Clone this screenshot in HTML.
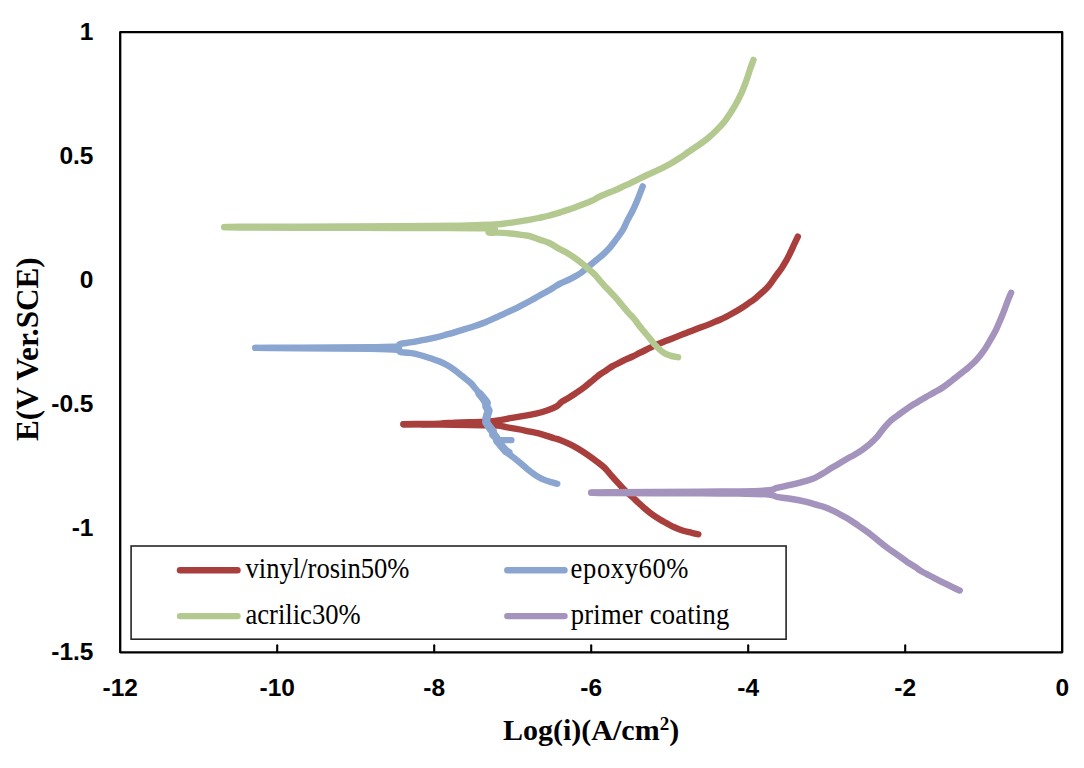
<!DOCTYPE html>
<html><head><meta charset="utf-8"><style>
html,body{margin:0;padding:0;background:#fff;width:1084px;height:768px;overflow:hidden}
svg{display:block}
.tk{font-family:"Liberation Sans",sans-serif;font-weight:bold;font-size:24.5px;fill:#000}
.lg{font-family:"Liberation Serif",serif;font-size:26.6px;fill:#000}
.ttl{font-family:"Liberation Serif",serif;font-weight:bold;font-size:30px;fill:#000}
.sup{font-size:19px}
</style></head><body>
<svg width="1084" height="768" viewBox="0 0 1084 768">
<rect x="0" y="0" width="1084" height="768" fill="#fff"/>
<line x1="277.2" y1="652.3" x2="277.2" y2="645.2" stroke="#000" stroke-width="2.1" stroke-linecap="round"/>
<line x1="434.2" y1="652.3" x2="434.2" y2="645.2" stroke="#000" stroke-width="2.1" stroke-linecap="round"/>
<line x1="591.2" y1="652.3" x2="591.2" y2="645.2" stroke="#000" stroke-width="2.1" stroke-linecap="round"/>
<line x1="748.2" y1="652.3" x2="748.2" y2="645.2" stroke="#000" stroke-width="2.1" stroke-linecap="round"/>
<line x1="905.2" y1="652.3" x2="905.2" y2="645.2" stroke="#000" stroke-width="2.1" stroke-linecap="round"/>
<rect x="120.2" y="32.2" width="942.0" height="620.1" fill="none" stroke="#000" stroke-width="2.3" stroke-linejoin="round"/>
<text x="93.5" y="40.2" text-anchor="end" class="tk">1</text>
<text x="93.5" y="164.2" text-anchor="end" class="tk">0.5</text>
<text x="93.5" y="288.2" text-anchor="end" class="tk">0</text>
<text x="93.5" y="412.3" text-anchor="end" class="tk">-0.5</text>
<text x="93.5" y="536.3" text-anchor="end" class="tk">-1</text>
<text x="93.5" y="660.3" text-anchor="end" class="tk">-1.5</text>
<text x="120.2" y="696.2" text-anchor="middle" class="tk">-12</text>
<text x="277.2" y="696.2" text-anchor="middle" class="tk">-10</text>
<text x="434.2" y="696.2" text-anchor="middle" class="tk">-8</text>
<text x="591.2" y="696.2" text-anchor="middle" class="tk">-6</text>
<text x="748.2" y="696.2" text-anchor="middle" class="tk">-4</text>
<text x="905.2" y="696.2" text-anchor="middle" class="tk">-2</text>
<text x="1062.2" y="696.2" text-anchor="middle" class="tk">0</text>
<path d="M698.3,534.3 C698.0,534.2 697.9,534.2 696.4,533.9 C694.9,533.5 691.5,532.8 689.0,532.2 C686.5,531.6 684.2,531.0 681.7,530.2 C679.2,529.4 676.8,528.4 674.3,527.3 C671.8,526.2 669.4,524.8 666.9,523.4 C664.4,522.0 662.0,520.7 659.5,519.2 C657.0,517.7 654.6,516.2 652.1,514.4 C649.6,512.6 647.2,510.6 644.8,508.5 C642.3,506.4 639.4,503.6 637.4,501.8 C635.4,500.0 634.9,499.4 632.8,497.5 C630.7,495.6 627.4,492.9 625.0,490.5 C622.6,488.1 620.5,485.7 618.2,483.2 C615.9,480.7 613.5,478.0 611.2,475.4 C608.9,472.8 606.9,470.0 604.4,467.6 C601.9,465.2 599.2,463.4 596.4,461.2 C593.5,459.0 590.3,456.7 587.3,454.6 C584.3,452.5 581.2,450.5 578.2,448.7 C575.2,446.9 572.1,445.3 569.1,443.9 C566.1,442.4 562.5,440.9 560.0,440.0 C557.5,439.1 557.0,439.1 554.0,438.2 C551.0,437.2 546.0,435.4 542.0,434.3 C538.0,433.2 534.0,432.5 530.0,431.6 C526.0,430.8 522.0,429.9 518.0,429.2 C514.0,428.4 509.3,427.7 506.0,427.1 C502.7,426.5 501.5,425.9 498.0,425.6 C494.5,425.3 489.7,425.4 485.0,425.3 C480.3,425.2 477.5,425.2 470.0,425.1 C462.5,425.0 448.3,424.7 440.0,424.6 C431.7,424.5 426.1,424.5 420.0,424.4 C413.9,424.3 406.2,424.2 403.5,424.2" fill="none" stroke="#A83F3D" stroke-width="6.4" stroke-linecap="round" stroke-linejoin="round"/>
<path d="M403.5,424.2 C406.2,424.2 413.9,424.1 420.0,424.0 C426.1,423.9 434.2,423.8 440.0,423.6 C445.8,423.4 450.0,422.8 455.0,422.6 C460.0,422.4 465.0,422.3 470.0,422.2 C475.0,422.1 480.0,422.1 485.0,421.8 C490.0,421.5 495.5,420.9 500.0,420.2 C504.5,419.5 508.0,418.5 512.0,417.8 C516.0,417.1 520.0,416.5 524.0,415.8 C528.0,415.1 532.0,414.5 536.0,413.6 C540.0,412.7 544.2,411.4 547.7,410.2 C551.2,409.0 554.6,407.6 556.9,406.2 C559.2,404.8 560.0,403.1 561.5,402.0 C563.0,400.9 563.8,400.7 566.1,399.3 C568.4,397.9 572.3,395.6 575.4,393.5 C578.5,391.4 581.5,389.4 584.6,387.0 C587.7,384.6 591.2,381.5 593.8,379.4 C596.4,377.3 597.9,375.9 600.0,374.4 C602.1,372.9 604.3,371.6 606.5,370.2 C608.7,368.8 610.8,367.1 613.0,365.9 C615.2,364.6 617.3,363.8 619.5,362.7 C621.7,361.6 623.8,360.4 626.0,359.4 C628.2,358.4 630.4,357.5 632.6,356.5 C634.8,355.5 636.9,354.3 639.1,353.2 C641.3,352.1 643.1,351.2 645.6,350.0 C648.1,348.8 650.4,347.4 654.0,345.8 C657.6,344.2 662.7,342.3 667.0,340.6 C671.3,338.9 676.2,336.9 680.0,335.4 C683.8,333.9 686.6,332.9 690.0,331.6 C693.4,330.3 696.9,328.9 700.4,327.6 C703.9,326.3 707.3,325.0 710.8,323.6 C714.3,322.2 717.8,320.8 721.3,319.2 C724.8,317.6 728.6,315.5 731.7,313.8 C734.8,312.1 737.3,310.7 740.0,309.0 C742.7,307.3 745.2,305.6 747.8,303.8 C750.4,302.0 753.0,300.3 755.6,298.2 C758.2,296.1 761.1,293.4 763.4,291.3 C765.7,289.2 767.3,287.8 769.3,285.3 C771.3,282.8 773.5,279.3 775.6,276.4 C777.7,273.5 780.0,270.7 781.8,268.0 C783.6,265.3 785.0,262.8 786.5,260.2 C788.0,257.6 789.2,254.9 790.5,252.3 C791.8,249.7 792.9,247.1 794.1,244.5 C795.3,241.9 797.2,238.0 797.8,236.7" fill="none" stroke="#A83F3D" stroke-width="6.4" stroke-linecap="round" stroke-linejoin="round"/>

<path d="M557.3,483.8 C556.1,483.5 552.4,482.5 550.2,481.9 C548.0,481.2 546.3,480.7 544.3,479.9 C542.3,479.1 540.3,478.1 538.4,477.0 C536.5,475.9 534.5,474.6 532.6,473.2 C530.7,471.8 528.6,470.0 526.7,468.5 C524.9,467.0 523.3,465.5 521.5,464.0 C519.7,462.5 517.5,460.7 516.0,459.5 C514.5,458.3 514.0,457.9 512.8,457.0 C511.6,456.1 509.9,455.0 508.7,453.9 C507.5,452.8 506.7,451.7 505.5,450.2 C504.3,448.7 502.7,446.8 501.4,445.0 C500.1,443.2 498.6,441.2 497.5,439.5 C496.4,437.8 495.8,436.5 494.9,434.8 C494.0,433.1 493.4,431.1 492.1,429.3 C490.9,427.5 488.3,425.7 487.4,423.8 C486.5,421.9 486.5,420.4 486.6,418.2 C486.7,416.0 488.2,413.1 487.9,410.5 C487.6,407.9 486.4,405.5 485.0,402.7 C483.6,399.9 481.4,396.4 479.6,393.9 C477.9,391.4 476.1,389.4 474.5,387.5 C472.9,385.6 472.3,384.5 470.3,382.6 C468.3,380.7 465.1,378.4 462.5,376.3 C459.9,374.2 457.3,372.0 454.7,370.1 C452.1,368.2 449.5,366.5 446.9,365.0 C444.3,363.5 441.7,362.4 439.1,361.3 C436.5,360.2 433.9,359.4 431.3,358.5 C428.7,357.6 426.0,356.8 423.4,356.0 C420.8,355.2 418.2,354.4 415.6,353.8 C413.0,353.2 410.4,353.0 407.8,352.7 C405.2,352.4 401.8,352.3 400.0,351.8 C398.2,351.3 402.0,350.3 397.0,349.8 C392.0,349.3 386.2,349.1 370.0,348.8 C353.8,348.6 316.7,348.4 300.0,348.3 C283.3,348.2 277.4,348.2 270.0,348.1 C262.6,348.0 257.8,347.9 255.3,347.9" fill="none" stroke="#8AA5CF" stroke-width="6.4" stroke-linecap="round" stroke-linejoin="round"/>
<path d="M255.3,347.9 C257.8,347.8 262.6,347.7 270.0,347.6 C277.4,347.6 283.3,347.7 300.0,347.6 C316.7,347.5 353.8,347.4 370.0,347.2 C386.2,347.0 392.0,347.0 397.0,346.5 C402.0,346.0 397.5,344.7 400.0,344.0 C402.5,343.3 408.0,342.9 412.0,342.2 C416.0,341.5 420.0,340.6 424.0,339.8 C428.0,339.0 432.0,338.3 436.0,337.4 C440.0,336.5 444.0,335.3 448.0,334.2 C452.0,333.1 456.0,331.8 460.0,330.6 C464.0,329.4 468.0,328.3 472.0,327.0 C476.0,325.7 480.0,324.4 484.0,322.8 C488.0,321.2 492.5,319.1 496.0,317.5 C499.5,315.9 501.9,314.7 505.0,313.3 C508.1,311.9 511.5,310.5 514.8,308.9 C518.0,307.3 521.2,305.6 524.5,303.9 C527.8,302.2 531.0,300.4 534.3,298.6 C537.6,296.8 540.9,295.0 544.1,293.1 C547.4,291.2 551.1,289.0 553.8,287.4 C556.4,285.8 557.8,284.8 560.0,283.6 C562.2,282.5 564.8,281.6 567.2,280.5 C569.6,279.4 571.9,278.2 574.3,276.9 C576.7,275.6 579.1,274.2 581.5,272.5 C583.9,270.8 586.1,268.7 588.7,266.5 C591.4,264.3 594.9,261.3 597.4,259.2 C599.9,257.2 601.7,255.7 603.6,254.0 C605.5,252.3 607.2,250.5 608.8,248.8 C610.4,247.1 611.6,245.3 613.0,243.6 C614.4,241.9 615.6,240.1 616.9,238.4 C618.2,236.7 619.4,234.9 620.6,233.2 C621.8,231.5 622.8,230.1 623.9,228.0 C625.0,225.9 625.9,223.3 627.4,220.4 C628.9,217.5 631.0,214.0 632.6,210.8 C634.2,207.7 635.5,204.6 636.8,201.5 C638.1,198.4 639.5,194.6 640.5,192.1 C641.5,189.6 642.3,187.3 642.7,186.4" fill="none" stroke="#8AA5CF" stroke-width="6.4" stroke-linecap="round" stroke-linejoin="round"/>

<path d="M496.5,440.1" fill="none" stroke="#8AA5CF" stroke-width="6.4" stroke-linecap="round" stroke-linejoin="round"/>
<path d="M496.5,440.1 L511.4,440.1" fill="none" stroke="#8AA5CF" stroke-width="6.4" stroke-linecap="round" stroke-linejoin="round"/>

<polyline points="479.6,393.9 483.5,398.5 486.8,402.5 486.3,406.5 488.6,410.5 487.6,414.0 486.4,418.2 486.2,422.5 488.3,425.5 490.3,428.5 492.9,431.5 493.2,434.8 496.2,437.5 497.3,441.0 499.8,443.8 501.4,446.0 504.5,449.4 506.0,451.3 508.5,452.4" fill="none" stroke="#8AA5CF" stroke-width="8.2" stroke-linecap="round" stroke-linejoin="round"/>
<path d="M678.1,357.2 C676.8,356.9 672.8,356.4 670.3,355.6 C667.8,354.8 665.8,354.2 663.2,352.4 C660.6,350.6 657.0,347.0 654.7,344.6 C652.4,342.2 651.3,340.2 649.5,338.0 C647.7,335.8 645.8,333.7 644.0,331.5 C642.2,329.3 640.4,327.2 638.7,325.0 C637.0,322.8 635.8,320.7 633.9,318.5 C632.0,316.3 629.5,313.9 627.6,311.8 C625.7,309.6 624.1,307.6 622.3,305.5 C620.5,303.4 618.8,301.3 617.0,299.2 C615.2,297.2 613.3,295.1 611.4,293.0 C609.5,290.9 607.3,288.8 605.4,286.8 C603.5,284.7 601.4,282.4 599.8,280.5 C598.2,278.6 597.6,277.5 595.8,275.6 C593.9,273.7 591.1,271.3 588.7,269.2 C586.3,267.1 583.9,264.8 581.5,262.9 C579.1,261.0 576.7,259.3 574.3,257.6 C571.9,255.9 569.6,254.3 567.2,252.9 C564.8,251.5 563.0,251.0 560.0,249.3 C557.0,247.7 552.7,244.6 549.3,243.0 C545.9,241.4 542.8,240.7 539.5,239.6 C536.2,238.5 532.4,236.9 529.8,236.2 C527.2,235.5 527.8,235.7 524.0,235.2 C520.2,234.7 511.7,233.5 507.0,233.1 C502.3,232.7 499.1,232.7 496.0,232.6 C492.9,232.5 489.8,233.3 488.6,232.6 C487.4,231.9 503.4,229.2 488.6,228.4 C473.8,227.6 431.4,228.1 400.0,228.0 C368.6,227.9 326.7,227.9 300.0,227.8 C273.3,227.7 252.6,227.6 240.0,227.5 C227.4,227.4 226.9,227.2 224.3,227.1" fill="none" stroke="#B3C990" stroke-width="6.4" stroke-linecap="round" stroke-linejoin="round"/>
<path d="M224.3,227.1 C226.9,227.0 227.4,226.8 240.0,226.7 C252.6,226.6 273.3,226.7 300.0,226.6 C326.7,226.5 373.3,226.5 400.0,226.3 C426.7,226.1 446.7,225.8 460.0,225.6 C473.3,225.4 473.6,225.2 480.0,225.0 C486.4,224.8 493.9,224.5 498.4,224.2 C502.9,223.9 503.4,223.7 507.0,223.2 C510.6,222.7 516.3,221.9 520.0,221.3 C523.7,220.8 526.1,220.5 529.2,219.9 C532.3,219.3 535.4,218.7 538.5,218.0 C541.6,217.3 544.6,216.8 547.7,216.0 C550.8,215.2 553.8,214.3 556.9,213.4 C560.0,212.5 563.0,211.4 566.1,210.4 C569.2,209.4 572.3,208.3 575.4,207.2 C578.5,206.1 581.5,204.9 584.6,203.7 C587.7,202.5 591.2,201.0 593.8,199.8 C596.4,198.6 597.3,197.6 600.0,196.3 C602.7,195.1 606.7,193.7 610.0,192.3 C613.3,190.9 616.7,189.5 620.0,188.0 C623.3,186.5 626.8,184.8 630.0,183.3 C633.2,181.8 635.4,180.6 639.0,178.8 C642.6,177.1 648.2,174.5 651.9,172.8 C655.6,171.1 658.0,170.1 661.1,168.6 C664.2,167.1 667.2,165.6 670.4,163.8 C673.5,162.0 676.8,159.9 680.0,157.8 C683.2,155.7 686.5,153.2 689.8,151.0 C693.0,148.8 696.2,146.8 699.5,144.5 C702.8,142.2 706.0,139.8 709.3,137.0 C712.6,134.2 716.4,130.4 719.1,127.6 C721.8,124.8 723.0,123.8 725.6,120.1 C728.2,116.4 732.4,110.1 735.0,105.6 C737.6,101.1 739.4,97.4 741.3,93.3 C743.2,89.2 744.7,85.0 746.2,80.9 C747.7,76.8 749.1,72.0 750.3,68.5 C751.5,65.0 753.0,61.3 753.5,59.9" fill="none" stroke="#B3C990" stroke-width="6.4" stroke-linecap="round" stroke-linejoin="round"/>

<path d="M959.7,590.5 C959.0,590.2 957.5,589.5 955.3,588.5 C953.1,587.5 949.4,585.7 946.5,584.2 C943.6,582.8 940.6,581.3 937.7,579.8 C934.8,578.3 932.0,576.9 929.0,575.3 C926.0,573.7 922.1,571.7 920.0,570.4 C917.9,569.1 918.2,569.0 916.3,567.7 C914.4,566.4 911.0,564.5 908.4,562.8 C905.8,561.0 903.2,559.1 900.6,557.2 C898.0,555.4 895.3,553.5 892.8,551.7 C890.2,549.9 887.8,548.3 885.3,546.3 C882.8,544.3 880.1,542.0 877.5,539.9 C874.9,537.8 872.3,535.7 869.7,533.7 C867.1,531.8 864.5,530.0 861.9,528.2 C859.3,526.4 856.7,524.4 854.1,522.7 C851.5,521.0 848.9,519.3 846.3,517.8 C843.7,516.3 841.0,514.9 838.4,513.5 C835.8,512.1 833.2,510.8 830.6,509.6 C828.0,508.4 825.4,507.4 822.8,506.5 C820.2,505.6 817.7,505.2 815.0,504.4 C812.3,503.6 810.3,502.8 806.4,501.9 C802.5,501.0 796.6,499.8 791.7,499.0 C786.8,498.2 780.7,497.6 776.9,496.9 C773.1,496.1 774.9,495.1 768.8,494.5 C762.6,493.9 751.5,493.8 740.0,493.6 C728.5,493.4 721.7,493.5 700.0,493.4 C678.3,493.3 628.1,493.1 610.0,493.0 C591.9,492.9 594.3,492.7 591.2,492.6" fill="none" stroke="#A493BD" stroke-width="6.4" stroke-linecap="round" stroke-linejoin="round"/>
<path d="M591.2,492.6 C594.3,492.5 591.9,492.4 610.0,492.2 C628.1,492.0 678.3,491.7 700.0,491.6 C721.7,491.5 728.5,491.6 740.0,491.4 C751.5,491.2 762.6,490.9 768.8,490.3 C774.9,489.7 773.1,488.8 776.9,487.9 C780.7,487.0 786.8,485.9 791.7,484.7 C796.6,483.5 802.5,482.0 806.4,480.9 C810.3,479.8 812.3,479.0 815.0,477.8 C817.7,476.6 820.2,475.0 822.8,473.5 C825.4,472.0 828.0,470.2 830.6,468.6 C833.2,467.0 835.8,465.5 838.4,463.9 C841.0,462.3 843.7,460.7 846.3,459.2 C848.9,457.7 851.5,456.4 854.1,454.9 C856.7,453.4 859.3,451.9 861.9,450.1 C864.5,448.3 867.1,446.5 869.7,444.2 C872.3,441.9 875.2,439.0 877.5,436.4 C879.8,433.8 881.1,431.4 883.5,428.6 C885.9,425.8 889.1,422.2 891.9,419.7 C894.7,417.2 897.6,415.5 900.4,413.4 C903.2,411.3 906.1,409.2 908.9,407.3 C911.7,405.4 914.5,403.9 917.3,402.2 C920.1,400.5 923.0,398.7 925.8,397.1 C928.6,395.5 931.5,394.0 934.3,392.4 C937.1,390.8 939.9,389.4 942.7,387.5 C945.5,385.6 948.2,383.5 951.2,381.2 C954.2,378.9 957.7,376.1 960.6,373.8 C963.5,371.5 965.8,369.8 968.4,367.5 C971.0,365.2 973.7,363.0 976.3,360.1 C978.9,357.2 981.7,353.8 984.1,350.3 C986.5,346.9 988.8,342.6 990.7,339.4 C992.6,336.2 993.9,333.9 995.3,331.2 C996.7,328.5 997.8,325.7 999.0,323.0 C1000.2,320.3 1001.4,317.5 1002.5,314.8 C1003.6,312.1 1004.6,309.3 1005.6,306.6 C1006.6,303.9 1007.8,300.7 1008.7,298.4 C1009.6,296.1 1010.7,293.6 1011.1,292.7" fill="none" stroke="#A493BD" stroke-width="6.4" stroke-linecap="round" stroke-linejoin="round"/>

<rect x="131.1" y="546" width="655" height="93.2" fill="#fff" stroke="#262626" stroke-width="1.6"/>
<line x1="180" y1="570.2" x2="237.5" y2="570.2" stroke="#A83F3D" stroke-width="6.4" stroke-linecap="round"/>
<text transform="translate(245.5,577.8) scale(1,1.08)" class="lg" letter-spacing="0">vinyl/rosin50%</text>
<line x1="180" y1="616.1" x2="237.5" y2="616.1" stroke="#B3C990" stroke-width="6.4" stroke-linecap="round"/>
<text transform="translate(245.5,623.7) scale(1,1.08)" class="lg" letter-spacing="0">acrilic30%</text>
<line x1="507.3" y1="570.2" x2="564.5" y2="570.2" stroke="#8AA5CF" stroke-width="6.4" stroke-linecap="round"/>
<text transform="translate(570.6,577.8) scale(1,1.08)" class="lg" letter-spacing="0.6">epoxy60%</text>
<line x1="507.3" y1="616.1" x2="564.5" y2="616.1" stroke="#A493BD" stroke-width="6.4" stroke-linecap="round"/>
<text transform="translate(570.8,623.7) scale(1,1.08)" class="lg" letter-spacing="0.2">primer coating</text>
<text x="503" y="740" class="ttl">Log(i)(A/cm<tspan class="sup" dy="-10">2</tspan><tspan dy="10">)</tspan></text>
<text transform="translate(37.6,441) rotate(-90)" class="ttl" style="font-size:31.2px">E(V Ver.SCE)</text>
</svg>
</body></html>
